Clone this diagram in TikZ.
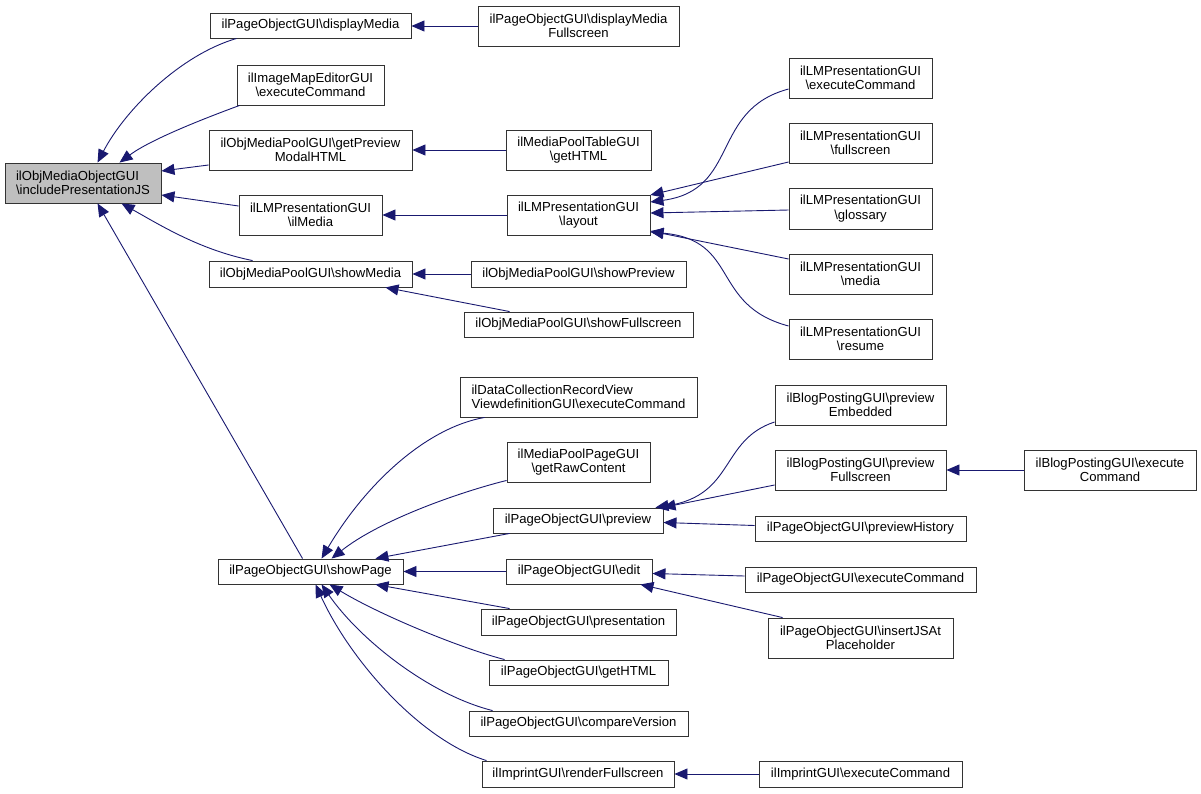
\documentclass[tikz,border=0pt]{standalone}
\usepackage{fontspec}
\setmainfont{Liberation Sans}
\usetikzlibrary{arrows.meta,calc}
\definecolor{edgecol}{HTML}{191970}
\definecolor{boxline}{HTML}{333333}
\definecolor{mainfill}{HTML}{BFBFBF}
\tikzset{
  box/.style={draw=boxline, line width=0.9pt, fill=white, inner sep=0pt, align=center,
    font=\fontsize{13.1}{14.5}\selectfont},
  mainbox/.style={box, fill=mainfill},
  edge/.style={draw=edgecol, line width=0.9pt, -{Triangle[length=13pt,width=11pt]}},
}
\newcommand{\bs}{\textbackslash}
\begin{document}
\begin{tikzpicture}[x=1pt,y=-1pt]
\useasboundingbox (0,0) rectangle (1201,793);
% column 1
\node[mainbox, align=left, minimum width=156, minimum height=40] (main) at (83,183) {ilObjMediaObjectGUI\\\bs includePresentationJS};
% column 2
\node[box, minimum width=201, minimum height=25] (dm) at (310.5,25.5) {ilPageObjectGUI\bs displayMedia};
\node[box, minimum width=147, minimum height=40] (imap) at (310.5,85) {ilImageMapEditorGUI\\\bs executeCommand};
\node[box, minimum width=203, minimum height=40] (gpm) at (310.5,150) {ilObjMediaPoolGUI\bs getPreview\\ModalHTML};
\node[box, minimum width=143, minimum height=40] (ilm) at (310.5,215) {ilLMPresentationGUI\\\bs ilMedia};
\node[box, minimum width=203, minimum height=26] (sm) at (310.5,274) {ilObjMediaPoolGUI\bs showMedia};
\node[box, minimum width=185, minimum height=25] (sp) at (310.5,571.5) {ilPageObjectGUI\bs showPage};
% column 3
\node[box, minimum width=201, minimum height=40] (dmf) at (578.5,26) {ilPageObjectGUI\bs displayMedia\\Fullscreen};
\node[box, minimum width=145, minimum height=40] (mpt) at (578.5,150) {ilMediaPoolTableGUI\\\bs getHTML};
\node[box, minimum width=143, minimum height=40] (lay) at (578.5,215) {ilLMPresentationGUI\\\bs layout};
\node[box, minimum width=215, minimum height=26] (spv) at (578.5,274) {ilObjMediaPoolGUI\bs showPreview};
\node[box, minimum width=229, minimum height=25] (sfs) at (578.5,324.5) {ilObjMediaPoolGUI\bs showFullscreen};
\node[box, align=left, minimum width=237, minimum height=40] (dc) at (578.5,397) {ilDataCollectionRecordView\\ViewdefinitionGUI\bs executeCommand};
\node[box, minimum width=143, minimum height=40] (raw) at (578.5,462) {ilMediaPoolPageGUI\\\bs getRawContent};
\node[box, minimum width=170, minimum height=25] (prev) at (578,520.5) {ilPageObjectGUI\bs preview};
\node[box, minimum width=146, minimum height=25] (edit) at (579,571.5) {ilPageObjectGUI\bs edit};
\node[box, minimum width=195, minimum height=26] (pres) at (578.5,622) {ilPageObjectGUI\bs presentation};
\node[box, minimum width=179, minimum height=25] (ghtml) at (578.5,672.5) {ilPageObjectGUI\bs getHTML};
\node[box, minimum width=219, minimum height=25] (cmp) at (578.5,723.5) {ilPageObjectGUI\bs compareVersion};
\node[box, minimum width=192, minimum height=26] (rfs) at (578,774) {ilImprintGUI\bs renderFullscreen};
% column 4
\node[box, minimum width=143, minimum height=40] (lmx) at (860.5,78) {ilLMPresentationGUI\\\bs executeCommand};
\node[box, minimum width=143, minimum height=40] (lmf) at (860.5,143) {ilLMPresentationGUI\\\bs fullscreen};
\node[box, minimum width=143, minimum height=41] (lmg) at (860.5,208.5) {ilLMPresentationGUI\\\bs glossary};
\node[box, minimum width=143, minimum height=40] (lmm) at (860.5,274) {ilLMPresentationGUI\\\bs media};
\node[box, minimum width=143, minimum height=40] (lmr) at (860.5,339) {ilLMPresentationGUI\\\bs resume};
\node[box, minimum width=171, minimum height=40] (bpe) at (860.5,405) {ilBlogPostingGUI\bs preview\\Embedded};
\node[box, minimum width=171, minimum height=40] (bpf) at (860.5,470) {ilBlogPostingGUI\bs preview\\Fullscreen};
\node[box, minimum width=211, minimum height=25] (ph) at (860.5,528.5) {ilPageObjectGUI\bs previewHistory};
\node[box, minimum width=231, minimum height=25] (pec) at (860.5,579.5) {ilPageObjectGUI\bs executeCommand};
\node[box, minimum width=185, minimum height=40] (ins) at (860.5,638) {ilPageObjectGUI\bs insertJSAt\\Placeholder};
\node[box, minimum width=203, minimum height=26] (iec) at (860.5,774) {ilImprintGUI\bs executeCommand};
% column 5
\node[box, minimum width=172, minimum height=40] (bpx) at (1110,470) {ilBlogPostingGUI\bs execute\\Command};

% edges into main
\draw[edge] ($(dm.south west)+(27,0)$) .. controls (180,55) and (125,110) .. ($(main.north west)+(93,0)$);
\draw[edge] ($(imap.south west)+(3,0)$) .. controls (200,120) and (150,140) .. ($(main.north west)+(115,0)$);
\draw[edge] ($(gpm.west)+(0,15)$) -- ($(main.east)+(0,-12)$);
\draw[edge] ($(ilm.west)+(0,-9)$) -- ($(main.east)+(0,12)$);
\draw[edge] ($(sm.north west)+(44,0)$) .. controls (200,250) and (160,225) .. ($(main.south west)+(117,0)$);
\draw[edge] ($(sp.north west)+(85,0)$) -- ($(main.south west)+(93,0)$);
% column 3 -> column 2
\draw[edge] (dmf.west) -- (dm.east |- dmf.west);
\draw[edge] (mpt.west) -- (gpm.east);
\draw[edge] (lay.west) -- (ilm.east);
\draw[edge] (spv.west) -- (sm.east);
\draw[edge] ($(sfs.north west)+(46,0)$) -- ($(sm.south east)+(-27,0)$);
% into layout
\draw[edge] ($(lmx.west)+(0,11)$) .. controls (710,110) and (740,190) .. ($(lay.east)+(0,-13)$);
\draw[edge] ($(lmf.west)+(0,19)$) -- ($(lay.east)+(0,-20)$);
\draw[edge] ($(lmg.west)+(0,1.5)$) -- ($(lay.east)+(0,-2)$);
\draw[edge] ($(lmm.west)+(0,-15)$) -- ($(lay.east)+(0,16)$);
\draw[edge] ($(lmr.west)+(0,-13)$) .. controls (710,305) and (740,240) .. ($(lay.east)+(0,17)$);
% into showPage
\draw[edge] ($(dc.south west)+(25,0)$) .. controls (425,428) and (365,485) .. ($(sp.north west)+(104,0)$);
\draw[edge] ($(raw.south west)+(0,-2)$) .. controls (460,492) and (380,520) .. ($(sp.north west)+(114,0)$);
\draw[edge] ($(prev.south west)+(17,0)$) -- ($(sp.north east)+(-28,0)$);
\draw[edge] (edit.west) -- (sp.east);
\draw[edge] ($(pres.north west)+(29,0)$) -- ($(sp.south east)+(-28,0)$);
\draw[edge] ($(ghtml.north west)+(16,0)$) .. controls (460,648) and (380,615) .. ($(sp.south west)+(112,0)$);
\draw[edge] ($(cmp.north west)+(24,0)$) .. controls (430,695) and (360,640) .. ($(sp.south west)+(104,0)$);
\draw[edge] ($(rfs.north west)+(5,0)$) .. controls (420,740) and (350,660) .. ($(sp.south west)+(98,0)$);
% into preview / edit / renderFullscreen
\draw[edge] ($(bpe.west)+(0,17)$) .. controls (720,440) and (735,495) .. ($(prev.north east)+(-8,0)$);
\draw[edge] ($(bpf.west)+(0,15)$) -- ($(prev.north east)+(-1,0)$);
\draw[edge] (bpx.west) -- (bpf.east);
\draw[edge] ($(ph.west)+(0,-3)$) -- ($(prev.east)+(0,2)$);
\draw[edge] ($(pec.west)+(0,-3.5)$) -- ($(edit.east)+(0,2)$);
\draw[edge] ($(ins.north west)+(15,0)$) -- ($(edit.south east)+(-12,0)$);
\draw[edge] (iec.west) -- (rfs.east);
\end{tikzpicture}
\end{document}
